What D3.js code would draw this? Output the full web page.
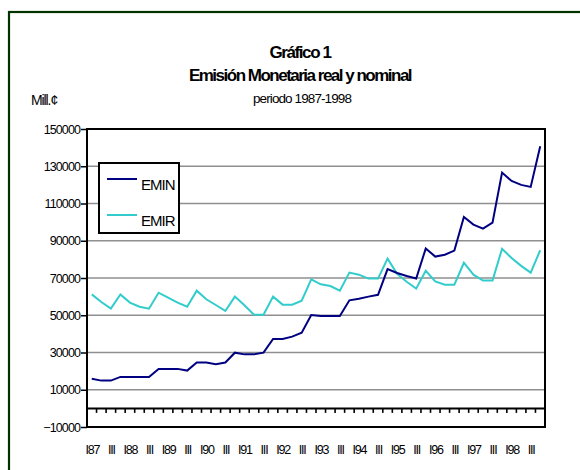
<!DOCTYPE html>
<html>
<head>
<meta charset="utf-8">
<script src="https://cdn.jsdelivr.net/npm/d3@7/dist/d3.min.js"></script>
<style>
  body { margin: 0; background: #fff; }
  svg { display: block; font-family: "Liberation Sans", Arial, sans-serif; }
</style>
</head>
<body>
<div id="chart"></div>
<script>
// quarters 1987-1998
const years = ["87", "88", "89", "90", "91", "92", "93", "94", "95", "96", "97", "98"];
const quarters = ["I", "II", "III", "IV"];
const yTicks = [-10000, 10000, 30000, 50000, 70000, 90000, 110000, 130000, 150000];

const emin = [15900, 14900, 14900, 16900, 16900, 16900, 16900, 21200, 21200, 21200, 20300, 24600,
  24600, 23700, 24600, 29900, 29000, 29000, 29900, 37300, 37300, 38500, 40600, 50100,
  49600, 49600, 49600, 58000, 58900, 60000, 61000, 74800, 72700, 71100, 69700, 85800,
  81500, 82500, 84700, 102800, 98700, 96500, 99700, 126600, 122100, 120000, 118900, 140700];
const emir = [61200, 57100, 53600, 61200, 56800, 54600, 53500, 62100, 59500, 56800, 54600, 63200,
  58600, 55500, 52300, 60000, 55400, 50300, 50300, 60000, 55700, 55700, 57800, 69300,
  66600, 65700, 63200, 72900, 71800, 69700, 69700, 80400, 72200, 68000, 64300, 73900,
  68200, 66400, 66400, 78200, 71800, 68600, 68600, 85700, 80700, 76500, 72900, 84900];

const categories = [];
years.forEach(yr => quarters.forEach(q => categories.push(q + yr)));

function catLabel(c, i) {
  const q = quarters[i % 4];
  if (q === "I") return c;
  if (q === "III") return "III";
  return "";
}

const width = 580, height = 470;
const plot = { left: 87, right: 545, top: 129, bottom: 427 };

const svg = d3.select("#chart").append("svg")
  .attr("width", width)
  .attr("height", height);

// outer frame (only left & top visible)
svg.append("rect")
  .attr("x", 9).attr("y", 12)
  .attr("width", 620).attr("height", 520)
  .attr("fill", "none")
  .attr("stroke", "#003300")
  .attr("stroke-width", 2.2);

// titles
svg.append("text").attr("x", 300).attr("y", 58).attr("text-anchor", "middle")
  .style("font-size", "17px").style("font-weight", "bold").style("letter-spacing", "-1.4px")
  .text("Gráfico 1");
svg.append("text").attr("x", 300).attr("y", 81).attr("text-anchor", "middle")
  .style("font-size", "17px").style("font-weight", "bold").style("letter-spacing", "-1.5px")
  .text("Emisión Monetaria real y nominal");
svg.append("text").attr("x", 302).attr("y", 103).attr("text-anchor", "middle")
  .style("font-size", "13.5px").style("letter-spacing", "-0.9px")
  .text("periodo 1987-1998");
svg.append("text").attr("x", 31).attr("y", 105)
  .style("font-size", "14px").style("letter-spacing", "-1.1px")
  .text("Mill.¢");

const x = d3.scaleBand().domain(categories).range([plot.left, plot.right]);
const y = d3.scaleLinear().domain([-10000, 150000]).range([plot.bottom, plot.top]);

// gridlines
svg.append("g").selectAll("line")
  .data(yTicks.filter(v => v > -10000 && v < 150000))
  .join("line")
  .attr("x1", plot.left).attr("x2", plot.right)
  .attr("y1", d => y(d)).attr("y2", d => y(d))
  .attr("stroke", "#8f8f8f").attr("stroke-width", 1.7);

// y axis
const yAxis = svg.append("g")
  .attr("transform", `translate(${plot.left},0)`)
  .call(d3.axisLeft(y).tickValues(yTicks).tickSize(6).tickPadding(1).tickFormat(d3.format("d")));
yAxis.select(".domain").remove();
yAxis.selectAll(".tick line").attr("stroke", "#000").attr("stroke-width", 1.5);
yAxis.selectAll(".tick text")
  .attr("fill", "#000")
  .style("font-family", "'Liberation Sans', Arial, sans-serif")
  .style("font-size", "12.5px").style("letter-spacing", "-0.9px");

// zero category axis with ticks at band boundaries
const bounds = categories.map(c => x(c)).concat([plot.right]);
svg.append("g").selectAll("line")
  .data(bounds)
  .join("line")
  .attr("x1", d => d).attr("x2", d => d)
  .attr("y1", y(0)).attr("y2", y(0) + 4.5)
  .attr("stroke", "#000").attr("stroke-width", 1.6);
svg.append("line")
  .attr("x1", plot.left).attr("x2", plot.right)
  .attr("y1", y(0)).attr("y2", y(0))
  .attr("stroke", "#000").attr("stroke-width", 2);

// category labels
svg.append("g").selectAll("text")
  .data(categories)
  .join("text")
  .attr("x", d => x(d) + x.bandwidth() / 2 + 0.5)
  .attr("y", 454)
  .attr("text-anchor", "middle")
  .style("font-size", "12.5px").style("letter-spacing", "-1.2px")
  .text((d, i) => catLabel(d, i));

// series
const line = d3.line()
  .x((d, i) => x(categories[i]) + x.bandwidth() / 2)
  .y(d => y(d));

svg.append("path").datum(emir)
  .attr("d", line).attr("fill", "none")
  .attr("stroke", "#33cccc").attr("stroke-width", 2).attr("stroke-linejoin", "miter");
svg.append("path").datum(emin)
  .attr("d", line).attr("fill", "none")
  .attr("stroke", "#000080").attr("stroke-width", 2).attr("stroke-linejoin", "miter");

// plot border
svg.append("rect")
  .attr("x", plot.left).attr("y", plot.top)
  .attr("width", plot.right - plot.left).attr("height", plot.bottom - plot.top)
  .attr("fill", "none").attr("stroke", "#000").attr("stroke-width", 2);

// legend
const legend = svg.append("g");
legend.append("rect")
  .attr("x", 99).attr("y", 163).attr("width", 80).attr("height", 70)
  .attr("fill", "#fff").attr("stroke", "#000").attr("stroke-width", 2);
const legendItems = [["EMIN", "#000080", 179], ["EMIR", "#33cccc", 215]];
legendItems.forEach(([name, col, ly]) => {
  legend.append("line")
    .attr("x1", 107).attr("x2", 137).attr("y1", ly).attr("y2", ly)
    .attr("stroke", col).attr("stroke-width", 2);
  legend.append("text")
    .attr("x", 141).attr("y", ly + 10.5)
    .style("font-size", "15px").style("letter-spacing", "-1px")
    .text(name);
});
</script>
</body>
</html>
